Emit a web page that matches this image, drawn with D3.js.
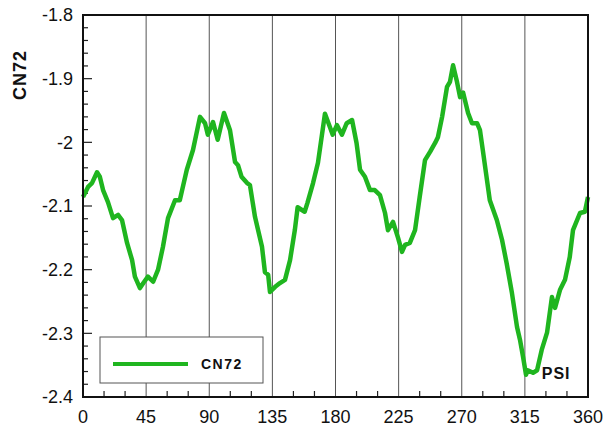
<!DOCTYPE html>
<html>
<head>
<meta charset="utf-8">
<script src="https://cdn.jsdelivr.net/npm/d3@7"></script>
<style>
  body { margin: 0; background: #fff; }
  svg text { font-family: "Liberation Sans", Arial, sans-serif; fill: #111; }
</style>
</head>
<body>
<div id="chart"></div>
<script>
// datos
const angles = [0, 3.6, 6.4, 10, 12, 14.3, 17.8, 21.4, 25, 27.8, 31.4, 35, 37, 40.6, 43, 46.3, 50, 53.5, 57, 60.6, 65.6, 69, 74, 78.4,
  83.4, 87, 89, 92.7, 96, 100.5, 104.8, 108.4, 110.5, 113, 117, 119, 122.6, 127.6, 129.7, 132, 133.3, 137, 140.4, 144, 147.6, 151, 153, 158, 160, 164, 167.5, 172.5,
  176, 178, 181, 184.6, 188, 191.8, 195, 197.5, 201, 204.6, 208, 211.7, 215.3, 217.4, 221, 224.6, 227.4, 229.6, 233, 236.7, 240, 243.8, 247.4, 251, 253, 256,
  259.5, 261.6, 263.8, 266.6, 268.8, 271, 274.5, 277.3, 280.9, 283, 285, 290, 295, 298.7, 302, 305.8, 309.4, 311.5, 313.7, 315.8, 317, 320.8, 323.7,
  327, 330.8, 334.3, 336.5, 340, 343.6, 347, 349.3, 354.3, 357.8, 360];
const cn72 = [-2.086, -2.07, -2.064, -2.047, -2.054, -2.075, -2.094, -2.119, -2.114, -2.122, -2.158, -2.185, -2.211, -2.229, -2.221, -2.211, -2.219, -2.2, -2.164, -2.119, -2.091, -2.091, -2.043, -2.012,
  -1.96, -1.97, -1.988, -1.968, -1.996, -1.954, -1.981, -2.031, -2.036, -2.054, -2.064, -2.067, -2.117, -2.164, -2.204, -2.208, -2.235, -2.227, -2.221, -2.216, -2.185, -2.138, -2.102, -2.109, -2.095, -2.064, -2.032, -1.955,
  -1.976, -1.988, -1.973, -1.988, -1.97, -1.965, -2.001, -2.043, -2.054, -2.075, -2.075, -2.083, -2.111, -2.138, -2.125, -2.15, -2.172, -2.161, -2.158, -2.138, -2.086, -2.028, -2.015, -2.001, -1.992, -1.96,
  -1.913, -1.905, -1.879, -1.905, -1.929, -1.922, -1.954, -1.97, -1.97, -1.981, -2.012, -2.091, -2.122, -2.153, -2.19, -2.237, -2.29, -2.31, -2.337, -2.365, -2.358, -2.362, -2.358,
  -2.326, -2.299, -2.243, -2.26, -2.232, -2.216, -2.18, -2.138, -2.111, -2.109, -2.086];
const xTicks = [0, 45, 90, 135, 180, 225, 270, 315, 360];
const yTicks = [-1.8, -1.9, -2, -2.1, -2.2, -2.3, -2.4];
const seriesName = 'CN72';
const pointLabel = 'PSI';

const COLOR_LINE = '#1fb51f';

let margin = {top: 15, right: 21, bottom: 33, left: 83},
    W = 609, H = 430,
    width = W - margin.left - margin.right,
    height = H - margin.top - margin.bottom;

let svg = d3.select('#chart').append('svg')
    .attr('width', W).attr('height', H)
  .append('g')
    .attr('transform', 'translate(' + margin.left + ',' + margin.top + ')');

let x = d3.scaleLinear().domain([0, 360]).range([0, width]);
let y = d3.scaleLinear().domain([-2.4, -1.8]).range([height, 0]);

// rejilla vertical
svg.append('g')
  .selectAll('line')
  .data(xTicks.slice(1, -1))
  .enter().append('line')
    .attr('x1', d => x(d)).attr('x2', d => x(d))
    .attr('y1', 0).attr('y2', height)
    .attr('stroke', '#555').attr('stroke-width', 1);

// ticks menores
svg.append('g')
  .selectAll('line')
  .data(d3.range(0, 361, 15).filter(d => d % 45 != 0))
  .enter().append('line')
    .attr('x1', d => x(d)).attr('x2', d => x(d))
    .attr('y1', height).attr('y2', height - 6)
    .attr('stroke', '#222').attr('stroke-width', 1.2);

svg.append('g')
  .selectAll('line')
  .data(d3.range(-2.4, -1.79, 0.02))
  .enter().append('line')
    .attr('x1', 0).attr('x2', (d, i) => i % 5 == 0 ? 9 : 5)
    .attr('y1', d => y(d)).attr('y2', d => y(d))
    .attr('stroke', '#222').attr('stroke-width', 1.2);

// linea
let line = d3.line()
  .x((d, i) => x(angles[i]))
  .y(d => y(d));

svg.append('path')
  .datum(cn72)
  .attr('d', line)
  .attr('fill', 'none')
  .attr('stroke', COLOR_LINE)
  .attr('stroke-width', 4.5)
  .attr('stroke-linejoin', 'round');

// marco
svg.append('rect')
  .attr('x', 0).attr('y', 0)
  .attr('width', width).attr('height', height)
  .attr('fill', 'none').attr('stroke', '#111').attr('stroke-width', 2);

// etiquetas ejes
svg.append('g')
  .selectAll('text')
  .data(xTicks)
  .enter().append('text')
    .attr('x', d => x(d)).attr('y', height + 26)
    .attr('text-anchor', 'middle')
    .style('font-size', '18px')
    .text(d => d);

svg.append('g')
  .selectAll('text')
  .data(yTicks)
  .enter().append('text')
    .attr('x', -10).attr('y', d => y(d))
    .attr('dy', '0.35em')
    .attr('text-anchor', 'end')
    .style('font-size', '18px')
    .text(d => d);

svg.append('text')
  .attr('transform', 'translate(' + (-57) + ',' + 60 + ') rotate(-90)')
  .attr('text-anchor', 'middle')
  .style('font-size', '18px').style('font-weight', 'bold')
  .style('letter-spacing', '1px')
  .text(seriesName);

// leyenda
let legend = svg.append('g').attr('transform', 'translate(' + (100 - margin.left) + ',' + (337 - margin.top) + ')');
legend.append('rect')
  .attr('width', 163).attr('height', 46)
  .attr('fill', '#fff').attr('stroke', '#555').attr('stroke-width', 1);
legend.append('line')
  .attr('x1', 13).attr('x2', 88).attr('y1', 27).attr('y2', 27)
  .attr('stroke', COLOR_LINE).attr('stroke-width', 4);
legend.append('text')
  .attr('x', 101).attr('y', 32)
  .style('font-size', '14px').style('font-weight', 'bold')
  .style('letter-spacing', '1.5px')
  .text(seriesName);

// etiqueta PSI
svg.append('text')
  .attr('x', x(327)).attr('y', y(-2.372))
  .style('font-size', '16px').style('font-weight', 'bold')
  .style('letter-spacing', '1px')
  .text(pointLabel);
</script>
</body>
</html>
